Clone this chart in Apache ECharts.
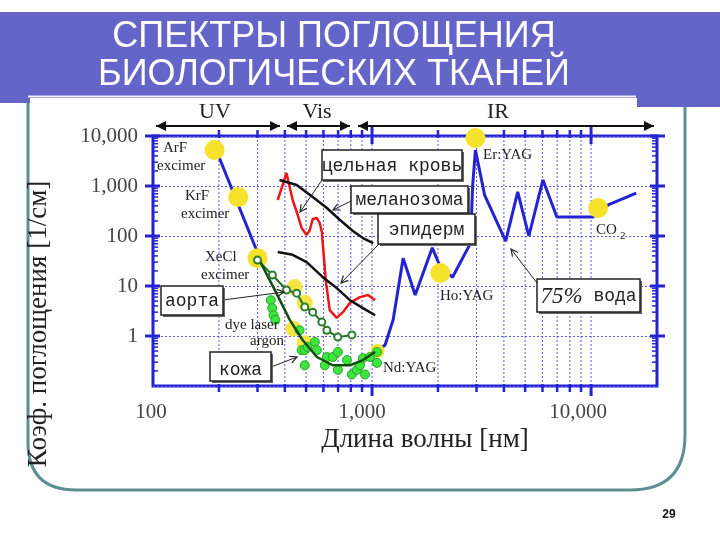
<!DOCTYPE html>
<html><head><meta charset="utf-8">
<script src="https://cdn.jsdelivr.net/npm/echarts@6/dist/echarts.min.js"></script>
<style>html,body{margin:0;padding:0;background:#fff}#c{width:720px;height:540px}</style>
</head><body><div id="c"></div>
<script>
// ---------- data ----------
const titleLines = ['СПЕКТРЫ ПОГЛОЩЕНИЯ', 'БИОЛОГИЧЕСКИХ ТКАНЕЙ'];
const xAxisTitle = 'Длина волны [нм]';
const yAxisTitle = 'Коэф. поглощения [1/см]';
const xTickValues = [100, 1000, 10000];
const xTickLabels = ['100', '1,000', '10,000'];
const yTickValues = [1, 10, 100, 1000, 10000];
const yTickLabels = ['1', '10', '100', '1,000', '10,000'];
const xMin = 100, xMax = 20000, yMin = 0.1, yMax = 10000;
const xGridValues = [200,300,400,500,600,700,800,900,1000,2000,3000,4000,5000,6000,7000,8000,9000,10000];
const yMinorValues = [0.2,0.3,0.4,0.5,0.6,0.7,0.8,0.9,2,3,4,5,6,7,8,9,20,30,40,50,60,70,80,90,200,300,400,500,600,700,800,900,2000,3000,4000,5000,6000,7000,8000,9000];

// wavelength [nm], absorption coefficient [1/cm]
const waterCurve = [[1043,0.48],[1147,0.66],[1248,2.1],[1387,36],[1574,6.6],[1884,58],[2050,24],[2330,15],[2818,72],[2877,955],[2965,5250],[3266,660],[4075,79],[4625,760],[5200,100],[6030,1320],[6980,240],[10200,240],[11970,417],[16070,724]];
const uvProteinLine = [[201,3630],[297,52]];
const bloodCurve = [[371,525],[407,1820],[434,525],[458,263],[477,145],[503,105],[520,132],[536,219],[560,229],[577,182],[590,120],[615,13],[641,3.3],[690,2.3],[736,3.0],[793,4.6],[881,6.0],[959,6.6],[1033,5.2]];
const melanosomeCurve = [[378,1320],[453,1047],[536,603],[622,363],[714,209],[818,126],[909,91],[1012,72]];
const epidermisCurve = [[371,48],[434,42],[503,30],[596,15],[690,9.1],[793,5.2],[909,3.6],[1033,2.6]];
const aortaCurve = [[300,33],[351,16.6],[407,8.3],[453,7.2],[493,3.8],[536,3.0],[590,1.9],[622,1.3],[698,0.95],[809,1.05]];
const skinCurve = [[306,33],[366,7.2],[421,2.1],[482,0.83],[560,0.38],[662,0.26],[793,0.26],[909,0.33],[1033,0.48]];
const skinPoints = [[345,5.2],[350,3.6],[355,2.6],[362,2.1],[467,1.3],[477,0.52],[493,0.26],[493,0.52],[508,0.60],[548,0.76],[560,0.52],[609,0.26],[622,0.38],[662,0.38],[698,0.48],[698,0.21],[768,0.33],[809,0.17],[853,0.21],[881,0.26],[909,0.36],[929,0.17],[979,0.38],[1054,0.29],[1054,0.48]];
const laserPoints = [[191,5250],[245,600],[300,36],[2050,18.2],[2965,9120],[10770,363]];
const laserNames = ['ArF','KrF','XeCl','Ho:YAG','Er:YAG','CO2'];
const ndYagPoint = [[1060,0.5]];
const highlightPoints = [[443,9.5],[493,4.6],[438,1.4],[493,0.72]];

// ---------- style ----------
const BLUE = '#2323d4';
const serif = '"Liberation Serif", "DejaVu Serif", serif';
const mono = '"Liberation Mono", "DejaVu Sans Mono", monospace';

function fmt(values, labels, styles) {
  return function (v) {
    for (let i = 0; i < values.length; i++) {
      if (Math.abs(v - values[i]) / values[i] < 1e-6) return styles ? '{' + styles[i] + '|' + labels[i] + '}' : labels[i];
    }
    return '';
  };
}
function isDecade(v) { const l = Math.log10(v); return Math.abs(l - Math.round(l)) < 1e-9; }

function arrowLine(x1, y1, x2, y2, w) {
  const a = Math.atan2(y2 - y1, x2 - x1), L = 7, H = 3.5;
  const p = (s) => [x2 - L * Math.cos(a) + s * H * Math.sin(a), y2 - L * Math.sin(a) - s * H * Math.cos(a)];
  return [
    {type: 'line', z: 50, shape: {x1, y1, x2, y2}, style: {stroke: '#222', lineWidth: w || 1}},
    {type: 'polyline', z: 50, shape: {points: [p(1), [x2, y2], p(-1)]}, style: {stroke: '#222', lineWidth: 1.2, fill: null}}
  ];
}
function doubleArrow(x1, x2, y) {
  return [
    {type: 'line', z: 50, shape: {x1, y1: y, x2, y2: y}, style: {stroke: '#111', lineWidth: 2}},
    {type: 'polygon', z: 50, shape: {points: [[x1, y], [x1 + 10, y - 5], [x1 + 10, y + 5]]}, style: {fill: '#111'}},
    {type: 'polygon', z: 50, shape: {points: [[x2, y], [x2 - 10, y - 5], [x2 - 10, y + 5]]}, style: {fill: '#111'}}
  ];
}
function labelBox(x, y, w, h, text, rich, dy) {
  const t = {text, fill: '#222', font: '18px ' + mono, align: 'center', verticalAlign: 'middle'};
  if (rich) t.rich = rich;
  return [
    {type: 'rect', z: 60, shape: {x: x + 2, y: y + 2, width: w, height: h}, style: {fill: '#666'}},
    {type: 'rect', z: 61, shape: {x, y, width: w, height: h}, style: {fill: '#fff', stroke: '#222', lineWidth: 1.5}},
    {type: 'text', z: 62, x: x + w / 2, y: y + h / 2 + (dy || 1), style: t}
  ];
}
function smallText(x, y, text, size) {
  return {type: 'text', z: 55, x, y, style: {text, fill: '#222', font: (size || 15) + 'px ' + serif, align: 'left', verticalAlign: 'middle'}};
}
function centerText(x, y, text, font, z) {
  return {type: 'text', z: z || 50, x, y, style: {text, fill: '#222', font, align: 'center', verticalAlign: 'middle'}};
}
const FRAME = '#5d8f8f';
const BANNER = '#6565c9';
const graphics = [
  // slide frame
  {type: 'line', z: 1, shape: {x1: 28, y1: 98, x2: 28, y2: 442}, style: {stroke: FRAME, lineWidth: 3}},
  {type: 'bezierCurve', z: 1, shape: {x1: 28, y1: 442, cpx1: 28, cpy1: 490, x2: 76, y2: 490}, style: {stroke: FRAME, lineWidth: 3, fill: null}},
  {type: 'line', z: 1, shape: {x1: 76, y1: 490, x2: 630, y2: 490}, style: {stroke: FRAME, lineWidth: 3}},
  {type: 'bezierCurve', z: 1, shape: {x1: 630, y1: 490, cpx1: 685, cpy1: 490, x2: 685, y2: 435}, style: {stroke: FRAME, lineWidth: 3, fill: null}},
  {type: 'line', z: 1, shape: {x1: 685, y1: 435, x2: 685, y2: 104}, style: {stroke: FRAME, lineWidth: 3}},
  // banner
  {type: 'rect', z: 2, shape: {x: 0, y: 12, width: 720, height: 86}, style: {fill: BANNER}},
  {type: 'rect', z: 2, shape: {x: 637, y: 12, width: 83, height: 95}, style: {fill: BANNER}},
  {type: 'rect', z: 2, shape: {x: 0, y: 97, width: 30, height: 6}, style: {fill: BANNER}},
  {type: 'line', z: 3, shape: {x1: 28, y1: 96.5, x2: 636, y2: 96.5}, style: {stroke: '#f2f2fa', lineWidth: 2}},
  {type: 'text', z: 4, x: 334, y: 37, style: {text: titleLines[0], fill: '#fff', font: '36px "Liberation Sans", Arial, sans-serif', align: 'center', verticalAlign: 'middle'}},
  {type: 'text', z: 4, x: 334, y: 75, style: {text: titleLines[1], fill: '#fff', font: '36px "Liberation Sans", Arial, sans-serif', align: 'center', verticalAlign: 'middle'}},
  // page number
  {type: 'text', z: 4, x: 669, y: 515, style: {text: '29', fill: '#111', font: 'bold 12px "Liberation Sans", Arial, sans-serif', align: 'center', verticalAlign: 'middle'}},
  // axis titles
  centerText(425, 440, xAxisTitle, '27px ' + serif, 4),
  {type: 'text', z: 4, x: 39, y: 324, rotation: Math.PI / 2, style: {text: yAxisTitle, fill: '#222', font: '27px ' + serif, align: 'center', verticalAlign: 'middle'}},
  // region labels
  centerText(215, 112, 'UV', '22px ' + serif),
  centerText(317, 112, 'Vis', '22px ' + serif),
  centerText(498, 112, 'IR', '22px ' + serif),
  ...doubleArrow(156, 280, 126),
  ...doubleArrow(287, 350, 126),
  ...doubleArrow(358, 654, 126),
  // laser labels
  smallText(163, 148, 'ArF'), smallText(157, 166, 'excimer'),
  smallText(185, 196, 'KrF'), smallText(181, 214, 'excimer'),
  smallText(205, 257, 'XeCl'), smallText(201, 275, 'excimer'),
  smallText(225, 325, 'dye laser'), smallText(250, 341, 'argon'),
  smallText(383, 368, 'Nd:YAG'), smallText(440, 296, 'Ho:YAG'), smallText(483, 155, 'Er:YAG'),
  smallText(596, 230, 'CO'), smallText(620, 236, '2', 11),
  // boxes
  ...labelBox(322, 150, 140, 30, 'цельная кровь'),
  ...labelBox(351, 186, 117, 27, 'меланозома'),
  ...labelBox(378, 214, 97, 30, 'эпидерм'),
  ...labelBox(161, 286, 62, 29, 'аорта'),
  ...labelBox(210, 352, 61, 29, 'кожа', null, 4),
  ...labelBox(537, 279, 103, 33, '{p|75%} {t|вода}', {p: {fontSize: 23, fontFamily: 'Liberation Serif', fontStyle: 'italic', fill: '#222'}, t: {fontSize: 18, fontFamily: 'Liberation Mono', fill: '#222'}}),
  // leaders
  ...arrowLine(322, 180, 300, 212),
  ...arrowLine(351, 201, 333, 210),
  ...arrowLine(380, 243, 341, 283),
  ...arrowLine(223, 300, 284, 292),
  ...arrowLine(271, 367, 297, 357),
  ...arrowLine(537, 283, 511, 249)
];

const xLabelRich = {
  a: {fontFamily: 'Liberation Serif', fontSize: 21, color: '#444', padding: [0, 4, 0, 0]},
  b: {fontFamily: 'Liberation Serif', fontSize: 21, color: '#444', padding: [0, 20, 0, 0]},
  c: {fontFamily: 'Liberation Serif', fontSize: 21, color: '#444', padding: [0, 26, 0, 0]}
};

const chart = echarts.init(document.getElementById('c'), null, {renderer: 'canvas'});
chart.setOption({
  animation: false,
  backgroundColor: '#fff',
  grid: {left: 153, top: 136, width: 504, height: 250, show: true, borderColor: BLUE, borderWidth: 3, backgroundColor: 'transparent'},
  xAxis: {
    type: 'log', logBase: 10, min: xMin, max: xMax,
    axisLine: {show: false}, axisTick: {show: false}, splitLine: {show: false},
    axisLabel: {formatter: fmt(xTickValues, xTickLabels, ['a', 'b', 'c']), rich: xLabelRich, fontFamily: 'Liberation Serif', fontSize: 21, color: '#444', margin: 16}
  },
  yAxis: {
    type: 'log', logBase: 10, min: yMin, max: yMax,
    axisLine: {show: false}, axisTick: {show: false},
    splitLine: {show: true, lineStyle: {type: [2, 2], color: '#5a5ae0', width: 1}},
    axisLabel: {formatter: fmt(yTickValues, yTickLabels), fontFamily: 'Liberation Serif', fontSize: 21, color: '#444', margin: 15}
  },
  graphic: graphics,
  series: [
    {
      type: 'custom', name: 'xgrid', coordinateSystem: 'cartesian2d', silent: true, clip: false, z: 1,
      data: xGridValues.map(v => [v, yMin]),
      renderItem: (params, api) => {
        const x = api.value(0);
        const p0 = api.coord([x, yMin]), p1 = api.coord([x, yMax]);
        const d = isDecade(x);
        return {type: 'group', children: [
          {type: 'line', shape: {x1: p0[0], y1: p0[1], x2: p1[0], y2: p1[1]}, style: {stroke: '#5a5ae0', lineWidth: 1, lineDash: [2, 2]}},
          {type: 'line', shape: {x1: p0[0], y1: p0[1] - 2, x2: p0[0], y2: p0[1] + (d ? 10 : 6)}, style: {stroke: BLUE, lineWidth: d ? 3 : 2.5}},
          {type: 'line', shape: {x1: p1[0], y1: p1[1] + (d ? 8 : 2), x2: p1[0], y2: p1[1] - (d ? 10 : 6)}, style: {stroke: BLUE, lineWidth: d ? 3 : 2.5}}
        ]};
      }
    },
    {
      type: 'custom', name: 'yticks', coordinateSystem: 'cartesian2d', silent: true, clip: false, z: 2,
      data: yMinorValues.concat(yTickValues).map(v => [xMin, v]),
      renderItem: (params, api) => {
        const v = api.value(1);
        const l = api.coord([xMin, v]), r = api.coord([xMax, v]);
        const d = isDecade(v);
        return {type: 'group', children: [
          {type: 'line', shape: {x1: l[0] - (d ? 8 : 0), y1: l[1], x2: l[0] + (d ? 7 : 5), y2: l[1]}, style: {stroke: BLUE, lineWidth: d ? 3 : 1.5}},
          {type: 'line', shape: {x1: r[0] + (d ? 8 : 0), y1: r[1], x2: r[0] - (d ? 7 : 5), y2: r[1]}, style: {stroke: BLUE, lineWidth: d ? 3 : 1.5}}
        ]};
      }
    },
    {name: 'UV', type: 'line', data: uvProteinLine, symbol: 'none', lineStyle: {color: BLUE, width: 3}, z: 3},
    {name: '75% вода', type: 'line', data: waterCurve, symbol: 'none', lineStyle: {color: BLUE, width: 3}, z: 3},
    {name: 'lasers', type: 'scatter', data: laserPoints, symbolSize: 20, itemStyle: {color: '#f6e22a', opacity: 1}, z: 4},
    {name: 'Nd:YAG', type: 'scatter', data: ndYagPoint, symbolSize: 14, itemStyle: {color: '#f6e22a', opacity: 1}, z: 4},
    {name: 'highlight', type: 'scatter', data: highlightPoints, symbolSize: 16, itemStyle: {color: '#f3e33a', opacity: 0.95}, z: 4},
    {name: 'цельная кровь', type: 'line', data: bloodCurve, symbol: 'none', lineStyle: {color: '#ee1515', width: 2.5}, z: 5},
    {name: 'меланозома', type: 'line', data: melanosomeCurve, symbol: 'none', lineStyle: {color: '#111', width: 2.5}, z: 5},
    {name: 'эпидерм', type: 'line', data: epidermisCurve, symbol: 'none', lineStyle: {color: '#111', width: 2.5}, z: 5},
    {name: 'кожа точки', type: 'scatter', data: skinPoints, symbolSize: 9, itemStyle: {color: '#3de63d', borderColor: '#2aa42a', borderWidth: 1, opacity: 1}, z: 6},
    {name: 'аорта', type: 'line', data: aortaCurve, symbol: 'emptyCircle', symbolSize: 7, itemStyle: {color: '#2e7d2e', borderWidth: 1.5}, lineStyle: {color: '#1f6f1f', width: 2}, z: 7},
    {name: 'кожа', type: 'line', data: skinCurve, symbol: 'none', lineStyle: {color: '#0e4e0e', width: 2.5}, z: 7}
  ]
});
</script></body></html>
